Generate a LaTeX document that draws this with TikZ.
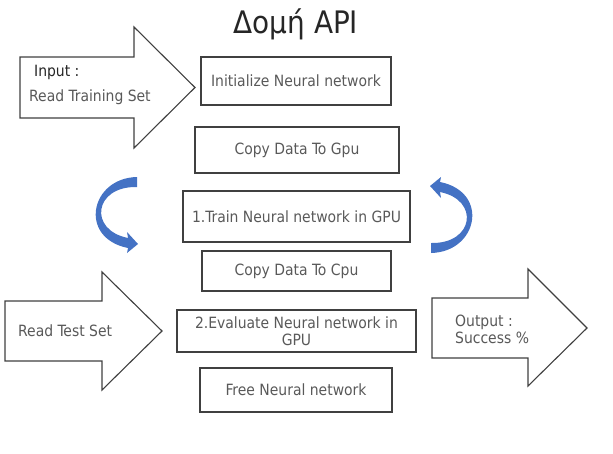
\documentclass[tikz,border=0pt]{standalone}
\usepackage{fontspec}
\setmainfont{DejaVu Sans Condensed}
\definecolor{linegray}{RGB}{64,64,64}
\definecolor{textgray}{RGB}{89,89,89}
\definecolor{loopblue}{RGB}{68,114,196}
\begin{document}
\begin{tikzpicture}[x=1pt, y=-1pt, font=\fontsize{15.5}{17}\selectfont, text=textgray,
    box/.style={draw=linegray, line width=1.1pt, align=center, inner sep=2pt},
    bigarrow/.style={draw=linegray, line width=1.1pt, fill=white},
    label/.style={anchor=west, inner sep=0pt, align=left},
    bendarrow/.pic={\fill[loopblue] (21,-39) .. controls (-26,-38) and (-38,22) .. (12,32)
        -- (11,37) -- (22,28) -- (11,16) -- (12,22) .. controls (-28,14) and (-22,-30) .. (21,-29) -- cycle;}]
    \useasboundingbox (0,0) rectangle (613,453);
    \node[anchor=base, font=\fontsize{31}{36}\selectfont, text=black!85] (title) at (296,33) {Δομή API};
    \foreach \xa/\ya/\xb/\yb/\ht/\hb/\xt in {20/57/134/118/27/148/195, 5/301/102/361/272/390/162, 432/298/528/358/269/386/587}
        \draw[bigarrow] (\xa,\ya) -- (\xb,\ya) -- (\xb,\ht) -- (\xt,{(\ya+\yb)/2}) -- (\xb,\hb) -- (\xb,\yb) -- (\xa,\yb) -- cycle;
    \foreach \name/\cx/\cy/\w/\h/\txt in {init/296/81/190/48/Initialize Neural network,
            togpu/297/150/204/46/Copy Data To Gpu, train/296.5/216.5/227/51/1.Train Neural network in GPU,
            tocpu/296.5/271/189/40/Copy Data To Cpu, eval/296.5/331/239/42/{2.Evaluate Neural network in\\GPU},
            free/296/390/192/44/Free Neural network}
        \node[box, minimum width=\w pt, minimum height=\h pt] (\name) at (\cx,\cy) {\txt};
    \node[label, text=black!85] (inputlbl) at (34,72) {Input :};
    \node[label] (trainset) at (29,97) {Read Training Set};
    \node[label] (testset) at (18,331) {Read Test Set};
    \node[label] (outlbl) at (455,329) {Output :\\Success \%};
    \pic at (116,216) {bendarrow};
    \pic[rotate=180] at (452,214) {bendarrow};
\end{tikzpicture}
\end{document}
